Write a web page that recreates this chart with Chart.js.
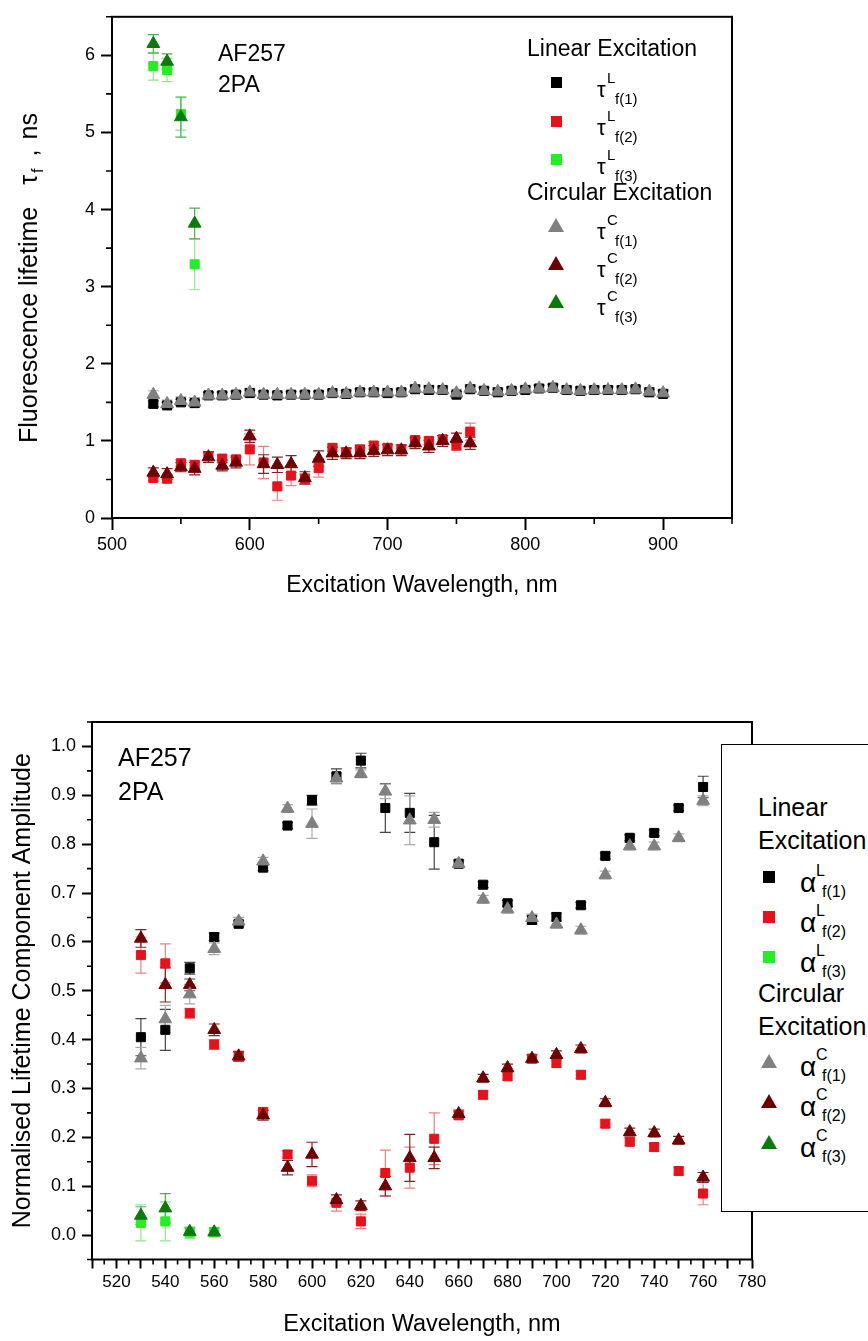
<!DOCTYPE html>
<html>
<head>
<meta charset="utf-8">
<script src="https://cdn.jsdelivr.net/npm/chart.js@4.4.0/dist/chart.umd.min.js"></script>
<style>
  body { margin: 0; background: #fff; }
  #page { position: relative; width: 868px; height: 1341px; overflow: hidden;
          font-family: "Liberation Sans", Arial, sans-serif; color: #000; }
  canvas { position: absolute; left: 0; }
  .txt { position: absolute; white-space: nowrap; line-height: 1; transform: translateY(-50%); }
  .box { position: absolute; left: 721px; top: 744px; width: 170px; height: 466px;
         border: 1.5px solid #000; background: #fff; }
</style>
</head>
<body>
<div id="page">
  <canvas id="top" width="868" height="640" style="top:0"></canvas>
  <canvas id="bottom" width="868" height="681" style="top:660px"></canvas>

  <div class="txt" style="left:31px;top:278px;font-size:25px;transform:translate(-50%,-50%) rotate(-90deg)">Fluorescence lifetime<span style="margin-left:22px">τ</span><sub style="font-size:16px;margin-left:2px">f</sub><span style="margin-left:12px">,</span><span style="margin-left:10px">ns</span></div>
  <div class="txt" style="left:218px;top:53px;font-size:23px">AF257</div>
  <div class="txt" style="left:218px;top:84px;font-size:23px">2PA</div>
  <div class="txt" style="left:527px;top:48px;font-size:23px">Linear Excitation</div>
  <div class="txt" style="left:527px;top:192px;font-size:23px">Circular Excitation</div>

  <div class="box"></div>
  <div class="txt" style="left:118px;top:757px;font-size:25px">AF257</div>
  <div class="txt" style="left:118px;top:791px;font-size:25px">2PA</div>
  <div class="txt" style="left:758px;top:807px;font-size:25px">Linear</div>
  <div class="txt" style="left:758px;top:840px;font-size:25px">Excitation</div>
  <div class="txt" style="left:758px;top:993px;font-size:25px">Circular</div>
  <div class="txt" style="left:758px;top:1026px;font-size:25px">Excitation</div>
  <div id="legends"></div>
</div>

<script>
// ---------- top chart: fluorescence lifetimes ----------
var wlTop = [530, 540, 550, 560, 570, 580, 590, 600, 610, 620, 630, 640, 650, 660, 670, 680, 690, 700, 710,
             720, 730, 740, 750, 760, 770, 780, 790, 800, 810, 820, 830, 840, 850, 860, 870, 880, 890, 900];
var tauL1 = [1.48, 1.46, 1.50, 1.49, 1.59, 1.59, 1.60, 1.62, 1.60, 1.59, 1.60, 1.60, 1.60, 1.62, 1.61, 1.63, 1.63, 1.62, 1.63,
             1.67, 1.66, 1.66, 1.60, 1.67, 1.65, 1.63, 1.65, 1.66, 1.68, 1.69, 1.66, 1.65, 1.66, 1.66, 1.66, 1.67, 1.63, 1.61];
var tauC1 = [1.60, 1.48, 1.52, 1.50, 1.59, 1.59, 1.60, 1.63, 1.60, 1.60, 1.60, 1.60, 1.60, 1.62, 1.61, 1.63, 1.63, 1.63, 1.63,
             1.68, 1.67, 1.66, 1.62, 1.68, 1.65, 1.64, 1.65, 1.67, 1.68, 1.69, 1.66, 1.65, 1.66, 1.66, 1.66, 1.67, 1.64, 1.62];
var tauL1err = [0.04, 0.04, 0.04, 0.04, 0.04, 0.04, 0.04, 0.04, 0.04, 0.04, 0.04, 0.04, 0.04, 0.04, 0.04, 0.04, 0.04, 0.04, 0.04,
                0.04, 0.04, 0.04, 0.04, 0.04, 0.04, 0.04, 0.04, 0.04, 0.04, 0.04, 0.04, 0.04, 0.04, 0.04, 0.04, 0.04, 0.04, 0.04];
var tauC1err = [0.05, 0.05, 0.05, 0.06, 0.05, 0.05, 0.05, 0.05, 0.05, 0.05, 0.05, 0.05, 0.05, 0.05, 0.05, 0.05, 0.05, 0.05, 0.05,
                0.05, 0.05, 0.05, 0.05, 0.05, 0.05, 0.05, 0.05, 0.05, 0.05, 0.05, 0.05, 0.05, 0.05, 0.05, 0.05, 0.05, 0.05, 0.05];

var wlTop2 = [530, 540, 550, 560, 570, 580, 590, 600, 610, 620, 630, 640, 650, 660, 670, 680, 690, 700, 710, 720, 730, 740, 750, 760];
var tauL2 = [0.52, 0.51, 0.71, 0.69, 0.80, 0.77, 0.76, 0.89, 0.72, 0.41, 0.55, 0.51, 0.65, 0.91, 0.85, 0.89, 0.94, 0.91, 0.89, 1.01, 1.00, 1.02, 0.94, 1.12];
var tauC2 = [0.59, 0.57, 0.66, 0.64, 0.79, 0.68, 0.72, 1.06, 0.70, 0.69, 0.70, 0.52, 0.77, 0.84, 0.84, 0.84, 0.87, 0.88, 0.88, 0.97, 0.93, 1.00, 1.03, 0.97];
var tauL2err = [0.04, 0.05, 0.04, 0.05, 0.05, 0.05, 0.05, 0.20, 0.21, 0.18, 0.13, 0.06, 0.12, 0.05, 0.05, 0.05, 0.05, 0.05, 0.05, 0.05, 0.05, 0.05, 0.06, 0.11];
var tauC2err = [0.06, 0.07, 0.06, 0.08, 0.07, 0.07, 0.07, 0.08, 0.12, 0.10, 0.11, 0.08, 0.10, 0.08, 0.07, 0.07, 0.07, 0.07, 0.07, 0.07, 0.08, 0.07, 0.07, 0.08];

var wlTop3 = [530, 540, 550, 560];
var tauL3 = [5.86, 5.81, 5.24, 3.29];
var tauC3 = [6.15, 5.92, 5.20, 3.82];
var tauL3err = [0.18, 0.15, 0.21, 0.33];
var tauC3err = [0.12, 0.10, 0.26, 0.20];

var xTicksTop = [500, 600, 700, 800, 900];
var xMinorTop = [550, 650, 750, 850, 950];
var yTicksTop = [0, 1, 2, 3, 4, 5, 6];
var yMinorTop = [0.5, 1.5, 2.5, 3.5, 4.5, 5.5, 6.5];

// ---------- bottom chart: amplitudes ----------
var wlBot = [530, 540, 550, 560, 570, 580, 590, 600, 610, 620, 630, 640, 650, 660, 670, 680, 690, 700, 710, 720, 730, 740, 750, 760];
var aL1 = [0.405, 0.420, 0.546, 0.610, 0.637, 0.752, 0.838, 0.890, 0.939, 0.971, 0.874, 0.864, 0.804, 0.760, 0.717, 0.679, 0.645, 0.651, 0.675, 0.776, 0.813, 0.823, 0.874, 0.917];
var aC1 = [0.362, 0.442, 0.493, 0.586, 0.642, 0.765, 0.873, 0.842, 0.935, 0.944, 0.908, 0.849, 0.850, 0.760, 0.687, 0.667, 0.649, 0.636, 0.624, 0.737, 0.796, 0.796, 0.813, 0.889];
var aL2 = [0.573, 0.556, 0.454, 0.390, 0.366, 0.252, 0.165, 0.111, 0.066, 0.028, 0.127, 0.138, 0.197, 0.245, 0.287, 0.325, 0.361, 0.352, 0.328, 0.228, 0.191, 0.180, 0.131, 0.085];
var aC2 = [0.607, 0.512, 0.512, 0.420, 0.366, 0.245, 0.138, 0.165, 0.072, 0.060, 0.100, 0.158, 0.158, 0.248, 0.321, 0.342, 0.361, 0.369, 0.381, 0.271, 0.211, 0.209, 0.194, 0.118];
var aL1err = [0.038, 0.042, 0.012, 0.008, 0.006, 0.006, 0.006, 0.010, 0.015, 0.015, 0.050, 0.040, 0.055, 0.006, 0.006, 0.006, 0.008, 0.008, 0.006, 0.006, 0.006, 0.006, 0.006, 0.022];
var aC1err = [0.022, 0.028, 0.020, 0.012, 0.008, 0.008, 0.008, 0.030, 0.010, 0.008, 0.015, 0.050, 0.015, 0.008, 0.008, 0.008, 0.008, 0.008, 0.008, 0.008, 0.008, 0.008, 0.008, 0.010];
var aL2err = [0.037, 0.040, 0.010, 0.010, 0.008, 0.008, 0.008, 0.012, 0.017, 0.015, 0.047, 0.042, 0.053, 0.008, 0.008, 0.008, 0.008, 0.008, 0.008, 0.008, 0.008, 0.008, 0.008, 0.023];
var aC2err = [0.018, 0.035, 0.012, 0.012, 0.010, 0.010, 0.015, 0.025, 0.010, 0.010, 0.020, 0.048, 0.022, 0.008, 0.008, 0.008, 0.008, 0.008, 0.008, 0.008, 0.008, 0.008, 0.008, 0.010];

var wlBot3 = [530, 540, 550, 560];
var aL3 = [0.025, 0.028, 0.005, 0.006];
var aC3 = [0.040, 0.055, 0.007, 0.006];
var aL3err = [0.037, 0.040, 0.012, 0.010];
var aC3err = [0.018, 0.030, 0.008, 0.008];

var xTicksBot = [510, 520, 530, 540, 550, 560, 570, 580, 590, 600, 610, 620, 630, 640, 650, 660, 670, 680, 690, 700, 710, 720, 730, 740, 750, 760, 770, 780];
var xMinorBot = [515, 525, 535, 545, 555, 565, 575, 585, 595, 605, 615, 625, 635, 645, 655, 665, 675, 685, 695, 705, 715, 725, 735, 745, 755, 765, 775];
var yTicksBot = [0.0, 0.1, 0.2, 0.3, 0.4, 0.5, 0.6, 0.7, 0.8, 0.9, 1.0];
var yMinorBot = [-0.05, 0.05, 0.15, 0.25, 0.35, 0.45, 0.55, 0.65, 0.75, 0.85, 0.95, 1.05];

// colours
var cBlack = '#000000', cRed = '#e8111a', cLime = '#22ee22';
var cGray = '#808080', cMaroon = '#700000', cGreen = '#0b7a0b';

var FONT = '"Liberation Sans", Arial, sans-serif';

function pts(xs, ys) {
  return xs.map(function (x, i) { return { x: x, y: ys[i] }; });
}

function series(xs, ys, errs, color, errColor, shape, order) {
  return {
    data: pts(xs, ys),
    errors: errs,
    errColor: errColor,
    pointStyle: shape,
    pointRadius: shape == 'rect' ? 6.4 : 7.4,
    backgroundColor: color,
    borderColor: color,
    borderWidth: 1,
    showLine: false,
    order: order
  };
}

// vertical error bars with caps
var errorBars = {
  id: 'errorBars',
  beforeDatasetsDraw: function (chart) {
    var ctx = chart.ctx, xs = chart.scales.x, ys = chart.scales.y;
    ctx.save();
    ctx.lineWidth = 1.2;
    chart.data.datasets.forEach(function (ds) {
      if (!ds.errors) return;
      ctx.strokeStyle = ds.errColor;
      ctx.beginPath();
      ds.data.forEach(function (p, i) {
        var e = ds.errors[i];
        var px = xs.getPixelForValue(p.x);
        var t = ys.getPixelForValue(p.y + e), b = ys.getPixelForValue(p.y - e);
        ctx.moveTo(px, t); ctx.lineTo(px, b);
        ctx.moveTo(px - 5.5, t); ctx.lineTo(px + 5.5, t);
        ctx.moveTo(px - 5.5, b); ctx.lineTo(px + 5.5, b);
      });
      ctx.stroke();
    });
    ctx.restore();
  }
};

// box frame + short minor ticks
function frame(minorX, minorY, len) {
  return {
    id: 'frame',
    afterDraw: function (chart) {
      var a = chart.chartArea, ctx = chart.ctx;
      ctx.save();
      ctx.strokeStyle = '#000';
      ctx.lineWidth = 2;
      ctx.strokeRect(a.left, a.top, a.right - a.left, a.bottom - a.top);
      ctx.lineWidth = 1.6;
      ctx.beginPath();
      minorX.forEach(function (v) {
        var p = chart.scales.x.getPixelForValue(v);
        ctx.moveTo(p, a.bottom); ctx.lineTo(p, a.bottom + len);
      });
      minorY.forEach(function (v) {
        var p = chart.scales.y.getPixelForValue(v);
        ctx.moveTo(a.left, p); ctx.lineTo(a.left - len, p);
      });
      ctx.stroke();
      ctx.restore();
    }
  };
}

function axis(opts) {
  return {
    type: 'linear',
    min: opts.min, max: opts.max,
    afterBuildTicks: function (s) { s.ticks = opts.ticks.map(function (v) { return { value: v }; }); },
    afterFit: function (s) { if (opts.w) s.width = opts.w; if (opts.h) s.height = opts.h; },
    grid: { drawOnChartArea: false, tickLength: opts.tick, tickWidth: 2, tickColor: '#000' },
    border: { display: false },
    ticks: { color: '#000', font: { family: FONT, size: opts.fs }, padding: opts.pad,
             maxRotation: 0, autoSkip: false, callback: opts.fmt },
    title: opts.title
  };
}

new Chart(document.getElementById('top'), {
  type: 'scatter',
  data: {
    datasets: [
      series(wlTop, tauL1, tauL1err, cBlack, '#444', 'rect', 2),
      series(wlTop2, tauL2, tauL2err, cRed, '#f08080', 'rect', 2),
      series(wlTop3, tauL3, tauL3err, cLime, '#8fe88f', 'rect', 2),
      series(wlTop, tauC1, tauC1err, cGray, '#aaa', 'triangle', 1),
      series(wlTop2, tauC2, tauC2err, cMaroon, '#8a2020', 'triangle', 1),
      series(wlTop3, tauC3, tauC3err, cGreen, '#4caf4c', 'triangle', 1)
    ]
  },
  options: {
    responsive: false,
    animation: false,
    layout: { padding: { left: 0, top: 14, right: 136, bottom: 0 } },
    plugins: { legend: { display: false }, tooltip: { enabled: false } },
    scales: {
      x: axis({ min: 500, max: 950, ticks: xTicksTop, h: 122, tick: 12, fs: 18, pad: 4,
                fmt: function (v) { return v; },
                title: { display: true, text: 'Excitation Wavelength, nm', color: '#000',
                         font: { family: FONT, size: 23 }, padding: { top: 0, bottom: 41 } } }),
      y: axis({ min: 0, max: 6.5, ticks: yTicksTop, w: 112, tick: 11, fs: 18, pad: 6,
                fmt: function (v) { return v; }, title: { display: false } })
    }
  },
  plugins: [errorBars, frame(xMinorTop, yMinorTop, 6)]
});

new Chart(document.getElementById('bottom'), {
  type: 'scatter',
  data: {
    datasets: [
      series(wlBot, aL1, aL1err, cBlack, '#444', 'rect', 2),
      series(wlBot, aL2, aL2err, cRed, '#f08080', 'rect', 2),
      series(wlBot3, aL3, aL3err, cLime, '#8fe88f', 'rect', 2),
      series(wlBot, aC1, aC1err, cGray, '#aaa', 'triangle', 1),
      series(wlBot, aC2, aC2err, cMaroon, '#8a2020', 'triangle', 1),
      series(wlBot3, aC3, aC3err, cGreen, '#4caf4c', 'triangle', 1)
    ]
  },
  options: {
    responsive: false,
    animation: false,
    layout: { padding: { left: 0, top: 62, right: 116, bottom: 0 } },
    plugins: { legend: { display: false }, tooltip: { enabled: false } },
    scales: {
      x: axis({ min: 510, max: 780, ticks: xTicksBot, h: 81.5, tick: 9, fs: 17, pad: 4,
                fmt: function (v) { return v % 20 === 0 ? v : ''; },
                title: { display: true, text: 'Excitation Wavelength, nm', color: '#000',
                         font: { family: FONT, size: 23.5 }, padding: { top: 0, bottom: 2 } } }),
      y: axis({ min: -0.05, max: 1.05, ticks: yTicksBot, w: 92, tick: 10, fs: 18, pad: 6,
                fmt: function (v) { return v.toFixed(1); },
                title: { display: true, text: 'Normalised Lifetime Component Amplitude', color: '#000',
                         font: { family: FONT, size: 25 }, padding: { top: 8, bottom: 0 } } })
    }
  },
  plugins: [errorBars, frame(xMinorBot, yMinorBot, 5)]
});

// ---------- HTML legends (need super/subscripts) ----------
var legTopRows = [
  { y: 82.5, shape: 'sq', color: cBlack, sup: 'L', sub: 'f(1)' },
  { y: 121, shape: 'sq', color: cRed, sup: 'L', sub: 'f(2)' },
  { y: 159.5, shape: 'sq', color: cLime, sup: 'L', sub: 'f(3)' },
  { y: 225, shape: 'tri', color: cGray, sup: 'C', sub: 'f(1)' },
  { y: 263, shape: 'tri', color: cMaroon, sup: 'C', sub: 'f(2)' },
  { y: 300.5, shape: 'tri', color: cGreen, sup: 'C', sub: 'f(3)' }
];
var legBotRows = [
  { y: 876.5, shape: 'sq', color: cBlack, sup: 'L', sub: 'f(1)' },
  { y: 916.5, shape: 'sq', color: cRed, sup: 'L', sub: 'f(2)' },
  { y: 957, shape: 'sq', color: cLime, sup: 'L', sub: 'f(3)' },
  { y: 1061, shape: 'tri', color: cGray, sup: 'C', sub: 'f(1)' },
  { y: 1101, shape: 'tri', color: cMaroon, sup: 'C', sub: 'f(2)' },
  { y: 1141.5, shape: 'tri', color: cGreen, sup: 'C', sub: 'f(3)' }
];

var holder = document.getElementById('legends');
function add(html) { holder.insertAdjacentHTML('beforeend', html); }

function legend(rows, g) {
  rows.forEach(function (r) {
    if (r.shape == 'sq') {
      add('<div style="position:absolute;left:' + (g.mx - g.sq / 2) + 'px;top:' + (r.y - g.sq / 2) +
          'px;width:' + g.sq + 'px;height:' + g.sq + 'px;background:' + r.color + '"></div>');
    } else {
      add('<div style="position:absolute;left:' + (g.mx - 8) + 'px;top:' + (r.y - 7) +
          'px;width:0;height:0;border-left:8px solid transparent;border-right:8px solid transparent;border-bottom:14px solid ' +
          r.color + '"></div>');
    }
    add('<div class="txt" style="left:' + g.sx + 'px;top:' + (r.y + g.sy) + 'px;font-size:' + g.sf + 'px;font-family:' + g.sfam + '">' + g.sym + '</div>');
    add('<div class="txt" style="left:' + g.ux + 'px;top:' + (r.y - 6) + 'px;font-size:' + g.uf + 'px">' + r.sup + '</div>');
    add('<div class="txt" style="left:' + g.bx + 'px;top:' + (r.y + 15) + 'px;font-size:' + g.uf + 'px">' + r.sub + '</div>');
  });
}

legend(legTopRows, { mx: 556, sq: 11, sym: 'τ', sfam: FONT, sf: 22, sx: 597, sy: 7, ux: 607, bx: 615, uf: 15 });
legend(legBotRows, { mx: 769, sq: 12, sym: 'α', sfam: '"Liberation Serif", serif', sf: 28, sx: 800, sy: 6, ux: 816, bx: 822, uf: 16 });
</script>
</body>
</html>
